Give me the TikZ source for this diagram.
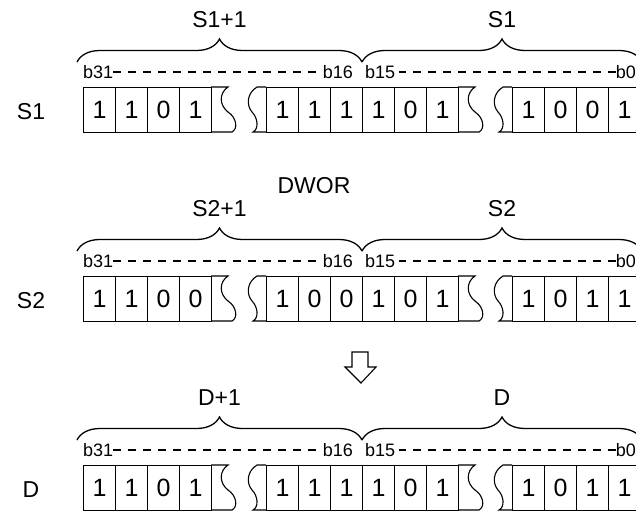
\documentclass[tikz,border=0pt]{standalone}
\usepackage{fontspec}
\setmainfont{Liberation Sans}
\usetikzlibrary{decorations.pathreplacing,positioning}
\tikzset{
  celda/.style={draw, line width=1.1pt, minimum width=32pt, minimum height=45pt,
    inner sep=0pt, anchor=north west, font=\fontsize{25}{25}\selectfont},
  bitlbl/.style={font=\fontsize{18}{18}\selectfont, inner sep=0pt},
  rotulo/.style={font=\fontsize{23}{23}\selectfont, inner sep=0pt},
  llave/.style={decorate, decoration={brace, amplitude=23pt}, line width=1.3pt},
  guion/.style={line width=1.1pt, dash pattern=on 8pt off 7pt},
  borde/.style={line width=1.1pt}
}

\begin{document}
\begin{tikzpicture}[x=1pt,y=-1pt]
\useasboundingbox (0,0) rectangle (636,513);

% Renglones: S1, S2 y D
\foreach \fila/\Y/\nom/\alto/\bajo/\ua/\ub/\uc in {
  s1/87/S1/S1+1/S1/{1,1,0,1}/{1,1,1,1,0,1}/{1,0,0,1},
  s2/276/S2/S2+1/S2/{1,1,0,0}/{1,0,0,1,0,1}/{1,0,1,1},
  d/465/D/D+1/D/{1,1,0,1}/{1,1,1,1,0,1}/{1,0,1,1}}
{
  \node[rotulo] (\fila-nom) at (31,\Y+25) {\nom};

  % celdas
  \foreach \b [count=\i from 0] in \ua
    \node[celda] (\fila-a\i) at (83+32*\i,\Y) {\b};
  \foreach \b [count=\i from 0] in \ub
    \node[celda] (\fila-b\i) at (266+32*\i,\Y) {\b};
  \foreach \b [count=\i from 0] in \uc
    \node[celda] (\fila-c\i) at (512+32*\i,\Y) {\b};

  % cortes ondulados
  \foreach \C in {211,458}
    \draw[borde] (\C,\Y) -- (\C+17,\Y)
      .. controls (\C+8,\Y+6) and (\C+8,\Y+18) .. (\C+17,\Y+25)
      .. controls (\C+26,\Y+31) and (\C+27,\Y+42) .. (\C+21,\Y+45) -- (\C,\Y+45);
  \foreach \C in {266,512}
    \draw[borde] (\C,\Y) -- (\C-9,\Y)
      .. controls (\C-19,\Y+6) and (\C-20,\Y+18) .. (\C-14,\Y+25)
      .. controls (\C-8,\Y+31) and (\C-7,\Y+42) .. (\C-13,\Y+45) -- (\C,\Y+45);

  % numeros de bit
  \node[bitlbl, anchor=west] (\fila-b31) at (83,\Y-15) {b31};
  \node[bitlbl, anchor=east] (\fila-b16) at (353,\Y-15) {b16};
  \node[bitlbl, anchor=west] (\fila-b15) at (365,\Y-15) {b15};
  \node[bitlbl, anchor=east] (\fila-b0) at (636,\Y-15) {b0};
  \draw[guion] (\fila-b31.east) -- (\fila-b16.west);
  \draw[guion, shorten >=4pt] (\fila-b0.west) -- (\fila-b15.east);

  % llaves
  \coordinate (\fila-izq) at (77,\Y-25);
  \coordinate (\fila-med) at (362,\Y-25);
  \coordinate (\fila-der) at (642,\Y-25);
  \draw[llave] (\fila-izq) -- (\fila-med);
  \draw[llave] (\fila-med) -- (\fila-der);
  \node[rotulo] (\fila-alto) at (219.5,\Y-67) {\alto};
  \node[rotulo] (\fila-bajo) at (502,\Y-67) {\bajo};
}

\node[rotulo] (op) at (314,186) {DWOR};

% flecha hueca
\draw[borde, line join=miter] (352,352) -- (368,352) -- (368,367) -- (376,367)
  -- (361,383) -- (345,367) -- (352,367) -- cycle;

\end{tikzpicture}
\end{document}
